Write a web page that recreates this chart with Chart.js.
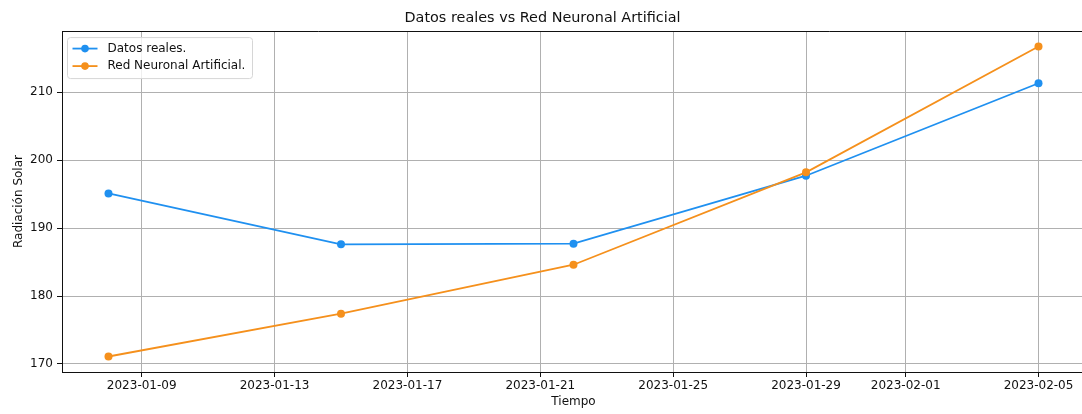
<!DOCTYPE html>
<html>
<head>
<meta charset="utf-8">
<script src="https://cdn.jsdelivr.net/npm/chart.js@4.4.1/dist/chart.umd.min.js"></script>
<style>
  html, body { margin: 0; padding: 0; background: #fff; overflow: hidden; }
  #clip { width: 1082px; height: 414px; overflow: hidden; }
  #wrap { width: 1090px; height: 414px; }
</style>
</head>
<body>
<div id="clip"><div id="wrap"><canvas id="c" width="1090" height="414"></canvas></div></div>
<script>
const dates = ['2023-01-08', '2023-01-15', '2023-01-22', '2023-01-29', '2023-02-05'];
const realValues = [195.1, 187.6, 187.7, 197.7, 211.3];
const annValues = [171.1, 177.4, 184.6, 198.2, 216.7];
const xTickDates = ['2023-01-09', '2023-01-13', '2023-01-17', '2023-01-21', '2023-01-25', '2023-01-29', '2023-02-01', '2023-02-05'];
const yTickValues = [170, 180, 190, 200, 210];
const seriesNames = ['Datos reales.', 'Red Neuronal Artificial.'];
const titleText = 'Datos reales vs Red Neuronal Artificial';
const xLabel = 'Tiempo';
const yLabel = 'Radiación Solar';

const DAY = 86400000;
const BASE = Date.UTC(2023, 0, 1);
function toDay(s) {
  const [y, m, d] = s.split('-').map(Number);
  return (Date.UTC(y, m - 1, d) - BASE) / DAY;
}
function fromDay(v) {
  const dt = new Date(BASE + Math.round(v) * DAY);
  const mm = String(dt.getUTCMonth() + 1).padStart(2, '0');
  const dd = String(dt.getUTCDate()).padStart(2, '0');
  return dt.getUTCFullYear() + '-' + mm + '-' + dd;
}

const xs = dates.map(toDay);
const xMargin = (xs[xs.length - 1] - xs[0]) * 0.05;
const allY = realValues.concat(annValues);
const yMinD = Math.min(...allY), yMaxD = Math.max(...allY);
const yMargin = (yMaxD - yMinD) * 0.05;

const BLUE = '#1f90f0';
const ORANGE = '#f5901c';
const FONT = 'DejaVu Sans';

const frame = {
  id: 'frame',
  afterDatasetsDraw(chart) {
    const {ctx, chartArea: a} = chart;
    ctx.save();
    ctx.strokeStyle = '#111';
    ctx.lineWidth = 1;
    ctx.beginPath();
    ctx.moveTo(Math.round(a.left) + 0.5, Math.round(a.top) + 0.5);
    ctx.lineTo(Math.round(a.right) + 0.5, Math.round(a.top) + 0.5);
    ctx.stroke();
    ctx.restore();
  }
};

const innerLegend = {
  id: 'innerLegend',
  afterDraw(chart) {
    const {ctx, chartArea: a} = chart;
    const x0 = a.left + 5.5, y0 = a.top + 6.5, w = 185, h = 41, r = 3;
    ctx.save();
    ctx.beginPath();
    ctx.moveTo(x0 + r, y0);
    ctx.lineTo(x0 + w - r, y0);
    ctx.arcTo(x0 + w, y0, x0 + w, y0 + r, r);
    ctx.lineTo(x0 + w, y0 + h - r);
    ctx.arcTo(x0 + w, y0 + h, x0 + w - r, y0 + h, r);
    ctx.lineTo(x0 + r, y0 + h);
    ctx.arcTo(x0, y0 + h, x0, y0 + h - r, r);
    ctx.lineTo(x0, y0 + r);
    ctx.arcTo(x0, y0, x0 + r, y0, r);
    ctx.closePath();
    ctx.fillStyle = 'rgba(255,255,255,0.8)';
    ctx.fill();
    ctx.strokeStyle = '#d6d6d6';
    ctx.lineWidth = 1;
    ctx.stroke();
    const colors = [BLUE, ORANGE];
    seriesNames.forEach((name, i) => {
      const cy = y0 + 11 + i * 17.5;
      ctx.strokeStyle = colors[i];
      ctx.lineWidth = 1.8;
      ctx.beginPath();
      ctx.moveTo(x0 + 5, cy);
      ctx.lineTo(x0 + 30, cy);
      ctx.stroke();
      ctx.fillStyle = colors[i];
      ctx.beginPath();
      ctx.arc(x0 + 17.5, cy, 3.8, 0, Math.PI * 2);
      ctx.fill();
      ctx.fillStyle = '#111';
      ctx.font = '12px "' + FONT + '"';
      ctx.textBaseline = 'middle';
      ctx.textAlign = 'left';
      ctx.fillText(name, x0 + 40, cy);
    });
    ctx.restore();
  }
};

new Chart(document.getElementById('c'), {
  type: 'line',
  data: {
    datasets: [
      {
        label: seriesNames[0],
        data: xs.map((x, i) => ({x, y: realValues[i]})),
        borderColor: BLUE,
        backgroundColor: BLUE,
        pointBackgroundColor: BLUE,
        pointBorderWidth: 0,
        pointRadius: 4,
        borderWidth: 1.8,
        tension: 0,
        order: 1
      },
      {
        label: seriesNames[1],
        data: xs.map((x, i) => ({x, y: annValues[i]})),
        borderColor: ORANGE,
        backgroundColor: ORANGE,
        pointBackgroundColor: ORANGE,
        pointBorderWidth: 0,
        pointRadius: 4,
        borderWidth: 1.8,
        tension: 0,
        order: 0
      }
    ]
  },
  options: {
    responsive: false,
    animation: false,
    events: [],
    layout: { padding: { left: 0, right: 5, top: 0, bottom: 0 } },
    plugins: {
      legend: { display: false },
      tooltip: { enabled: false },
      title: {
        display: true,
        text: titleText,
        color: '#111',
        font: { family: FONT, size: 14.4, weight: 'normal' },
        padding: { top: 9.4, bottom: 4.4 }
      }
    },
    scales: {
      x: {
        type: 'linear',
        min: xs[0] - xMargin,
        max: xs[xs.length - 1] + xMargin,
        afterBuildTicks(scale) {
          scale.ticks = xTickDates.map(s => ({value: toDay(s)}));
        },
        afterFit(scale) { scale.height = 42; },
        ticks: {
          callback: v => fromDay(v),
          color: '#111',
          font: { family: FONT, size: 12 },
          padding: 2,
          maxRotation: 0,
          autoSkip: false
        },
        grid: { color: '#b0b0b0', lineWidth: 1, tickColor: '#111', tickLength: 5, drawTicks: true },
        border: { display: true, color: '#111', width: 1 },
        title: {
          display: true,
          text: xLabel,
          color: '#111',
          font: { family: FONT, size: 12 },
          padding: { top: 0, bottom: 4.8 }
        }
      },
      y: {
        type: 'linear',
        min: yMinD - yMargin,
        max: yMaxD + yMargin,
        afterBuildTicks(scale) {
          scale.ticks = yTickValues.map(v => ({value: v}));
        },
        afterFit(scale) { scale.width = 62; },
        ticks: {
          color: '#111',
          font: { family: FONT, size: 12 },
          padding: 4
        },
        grid: { color: '#b0b0b0', lineWidth: 1, tickColor: '#111', tickLength: 5 },
        border: { display: true, color: '#111', width: 1 },
        title: {
          display: true,
          text: yLabel,
          color: '#111',
          font: { family: FONT, size: 12 },
          padding: { top: 11.2, bottom: 0 }
        }
      }
    }
  },
  plugins: [frame, innerLegend]
});
</script>
</body>
</html>
